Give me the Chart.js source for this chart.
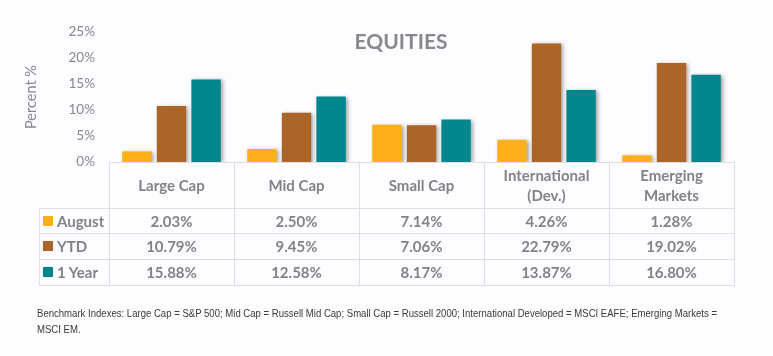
<!DOCTYPE html>
<html>
<head>
<meta charset="utf-8">
<script src="https://cdn.jsdelivr.net/npm/chart.js@4.4.1/dist/chart.umd.min.js"></script>
<style>
html,body{margin:0;padding:0;background:#fdfcfe;}
#wrap{position:relative;width:773px;height:356px;overflow:hidden;font-family:Lato,"Open Sans",sans-serif;}
#chart{position:absolute;left:0;top:0;}
#title{position:absolute;left:301px;width:200px;top:28px;text-align:center;font-weight:bold;font-size:21px;line-height:26px;color:#8b8690;}
.cell{position:absolute;box-sizing:border-box;display:flex;align-items:center;justify-content:center;text-align:center;color:#85808b;font-weight:bold;font-size:15px;line-height:20px;}
.hl,.vl{position:absolute;background:#dfdee3;}
.lab{position:absolute;left:43px;display:flex;align-items:center;color:#85808b;font-weight:bold;font-size:15px;}
.sw{width:10px;height:10px;margin-right:4px;}
#note{position:absolute;left:37px;top:305px;font-family:"Liberation Sans",Arial,sans-serif;font-size:11px;line-height:16px;color:#3a3a3a;white-space:nowrap;transform-origin:0 0;}
</style>
</head>
<body>
<div id="wrap">
  <canvas id="chart" width="773" height="356"></canvas>
  <div id="title">EQUITIES</div>
  <div id="table"></div>
  <div id="note"><span id="l1">Benchmark Indexes: Large Cap = S&amp;P 500; Mid Cap = Russell Mid Cap; Small Cap = Russell 2000; International Developed = MSCI EAFE; Emerging Markets =</span><br>MSCI EM.</div>
</div>
<script>
const categories = [['Large Cap'], ['Mid Cap'], ['Small Cap'], ['International', '(Dev.)'], ['Emerging', 'Markets']];
const seriesNames = ['August', 'YTD', '1 Year'];
const august = [2.03, 2.50, 7.14, 4.26, 1.28];
const ytd = [10.79, 9.45, 7.06, 22.79, 19.02];
const oneYear = [15.88, 12.58, 8.17, 13.87, 16.80];
const seriesColors = ['#fdb019', '#ab6528', '#00878d'];
const yTicks = [0, 5, 10, 15, 20, 25];

const seriesValues = [august, ytd, oneYear];

const shadowPlugin = {
  id: 'barShadow',
  beforeDatasetsDraw(chart) {
    const ctx = chart.ctx;
    ctx.save();
    ctx.shadowColor = 'rgba(0,0,0,0.35)';
    ctx.shadowBlur = 4;
    ctx.shadowOffsetX = 2;
    ctx.shadowOffsetY = 1;
  },
  afterDatasetsDraw(chart) {
    chart.ctx.restore();
  }
};

const chart = new Chart(document.getElementById('chart'), {
  type: 'bar',
  data: {
    labels: categories,
    datasets: seriesNames.map((name, i) => ({
      label: name,
      data: seriesValues[i],
      backgroundColor: seriesColors[i],
      borderWidth: 0,
      categoryPercentage: 0.83,
      barPercentage: 0.85
    }))
  },
  options: {
    responsive: false,
    animation: false,
    events: [],
    layout: { padding: { left: 0, right: 39, top: 32, bottom: 194 } },
    plugins: { legend: { display: false }, tooltip: { enabled: false }, title: { display: false } },
    scales: {
      x: {
        grid: { display: false, drawTicks: false },
        ticks: { display: false },
        border: { display: true, color: '#dfdee3', width: 1 },
        afterFit(scale) { scale.height = 0; }
      },
      y: {
        min: yTicks[0],
        max: yTicks[yTicks.length - 1],
        afterBuildTicks(scale) { scale.ticks = yTicks.map(v => ({ value: v })); },
        grid: { display: false, drawTicks: false },
        border: { display: false },
        ticks: {
          callback: v => v + '%',
          color: '#8b8690',
          font: { family: 'Lato', size: 13.5 },
          padding: 14
        },
        title: {
          display: true,
          text: 'Percent %',
          color: '#8b8690',
          font: { family: 'Lato', size: 14.5 },
          padding: { top: 23, bottom: 0 }
        },
        afterFit(scale) { scale.width = 109; }
      }
    }
  },
  plugins: [shadowPlugin]
});

// Data table built from the same arrays, aligned with the chart's x scale
(function buildTable() {
  const t = document.getElementById('table');
  const xs = chart.scales.x;
  const n = categories.length;
  const cw = (xs.right - xs.left) / n;
  const headTop = Math.round(chart.chartArea.bottom);
  const rowEdges = [208, 233, 259, 285];
  const tableLeft = 39;
  const right = xs.right;
  function div(cls, style, html) {
    const d = document.createElement('div');
    d.className = cls;
    Object.assign(d.style, style);
    if (html !== undefined) d.innerHTML = html;
    t.appendChild(d);
    return d;
  }
  rowEdges.forEach(y => div('hl', { left: tableLeft + 'px', top: y + 'px', width: (right - tableLeft + 1) + 'px', height: '1px' }));
  div('vl', { left: tableLeft + 'px', top: rowEdges[0] + 'px', width: '1px', height: (rowEdges[3] - rowEdges[0]) + 'px' });
  for (let i = 0; i <= n; i++) {
    const x = Math.round(xs.left + i * cw);
    div('vl', { left: x + 'px', top: headTop + 'px', width: '1px', height: (rowEdges[3] - headTop) + 'px' });
  }
  categories.forEach((c, i) => {
    const x = xs.left + i * cw;
    div('cell', { left: x + 'px', top: headTop + 'px', width: cw + 'px', height: (rowEdges[0] - headTop) + 'px' }, c.join('<br>'));
  });
  seriesNames.forEach((name, r) => {
    const top = rowEdges[r], h = rowEdges[r + 1] - rowEdges[r];
    const lab = div('lab', { top: top + 'px', height: h + 'px' });
    const sw = document.createElement('span');
    sw.className = 'sw';
    sw.style.background = seriesColors[r];
    lab.appendChild(sw);
    lab.appendChild(document.createTextNode(name));
    seriesValues[r].forEach((v, i) => {
      const x = xs.left + i * cw;
      div('cell', { left: x + 'px', top: top + 'px', width: cw + 'px', height: h + 'px' }, v.toFixed(2) + '%');
    });
  });
  // footnote: condense horizontally to the reference's line length
  const l1 = document.getElementById('l1');
  const w = l1.getBoundingClientRect().width;
  document.getElementById('note').style.transform = 'scaleX(' + (680 / w) + ')';
})();
</script>
</body>
</html>
